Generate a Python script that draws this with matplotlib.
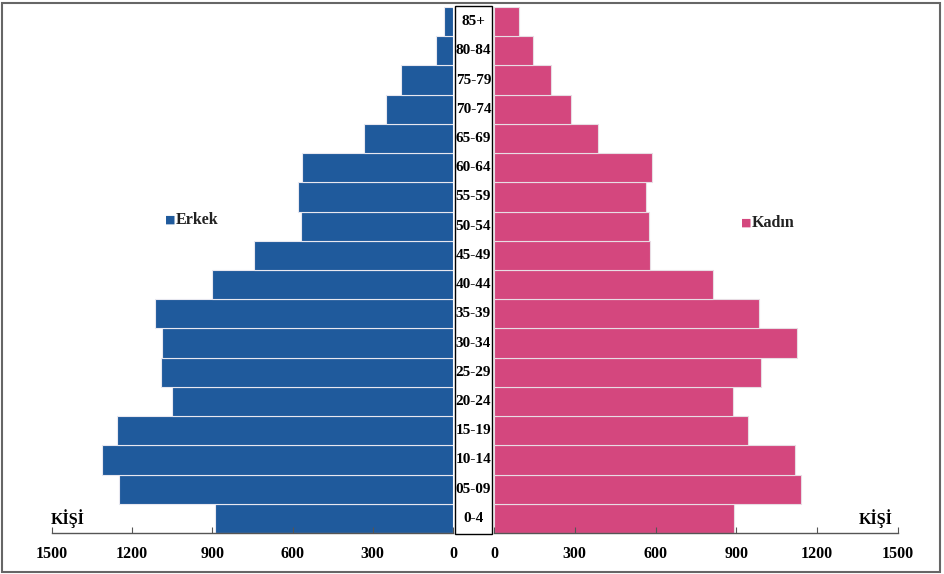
import numpy as np
import matplotlib.pyplot as plt
import matplotlib.patches as mpatches
import matplotlib.transforms as mtransforms

# age groups from bottom to top
ages = ['0-4', '05-09', '10-14', '15-19', '20-24', '25-29', '30-34', '35-39', '40-44',
        '45-49', '50-54', '55-59', '60-64', '65-69', '70-74', '75-79', '80-84', '85+']
erkek = [892, 1250, 1313, 1257, 1052, 1093, 1090, 1116, 903,
         743, 567, 578, 563, 332, 250, 194, 63, 34]
kadin = [892, 1141, 1119, 944, 888, 993, 1126, 985, 814,
         580, 576, 565, 587, 387, 286, 212, 145, 93]
ticks = [0, 300, 600, 900, 1200, 1500]

blue = '#1f5a9c'
pink = '#d4477e'
serif = ['Liberation Serif', 'DejaVu Serif']

W, H = 945, 574
fig = plt.figure(figsize=(W / 100, H / 100), dpi=100)

def px_box(x0, x1, ytop, ybot):
    return [x0 / W, 1 - ybot / H, (x1 - x0) / W, (ybot - ytop) / H]

ax_l = fig.add_axes(px_box(52, 453, 7, 533))
ax_r = fig.add_axes(px_box(494, 898, 7, 533))

y = np.arange(len(ages))
ax_l.barh(y, erkek, height=1.0, color=blue, edgecolor='#e8e8f0', linewidth=0.8)
ax_r.barh(y, kadin, height=1.0, color=pink, edgecolor='#e8dde4', linewidth=0.8)

for ax in (ax_l, ax_r):
    ax.set_ylim(-0.5, len(ages) - 0.5)
    ax.set_yticks([])
    for s in ('top', 'left', 'right'):
        ax.spines[s].set_visible(False)
    ax.spines['bottom'].set_color('#555555')
    ax.spines['bottom'].set_linewidth(1.0)
    ax.set_xticks(ticks)
    ax.set_xticklabels([str(t) for t in ticks], fontfamily=serif, fontweight='bold', fontsize=11.5)
    ax.tick_params(axis='x', direction='in', length=4, color='#555555', pad=9)
    ax.patch.set_alpha(0)

ax_l.set_xlim(1500, 0)
ax_r.set_xlim(0, 1500)

# centre column with age labels
fig.patches.append(mpatches.Rectangle((455 / W, 1 - 534 / H), 37 / W, 528 / H,
                                      transform=fig.transFigure, facecolor='white',
                                      edgecolor='black', linewidth=1.0, zorder=3))
trans = mtransforms.blended_transform_factory(fig.transFigure, ax_l.transData)
for yi, lab in zip(y, ages):
    fig.text(473.5 / W, yi, lab, transform=trans, ha='center', va='center',
             fontfamily=serif, fontweight='bold', fontsize=11, zorder=4)

# legend-like labels
fig.text(165 / W, 1 - 220 / H, '\u25a0', color=blue, ha='left', va='center', fontsize=8)
fig.text(176 / W, 1 - 220 / H, 'Erkek', ha='left', va='center',
         fontfamily=serif, fontweight='bold', fontsize=11.5, color='#222222')
fig.text(741 / W, 1 - 223 / H, '\u25a0', color=pink, ha='left', va='center', fontsize=8)
fig.text(752 / W, 1 - 223 / H, 'Kadın', ha='left', va='center',
         fontfamily=serif, fontweight='bold', fontsize=11.5, color='#222222')

fig.text(68 / W, 1 - 519 / H, 'KİŞİ', ha='center', va='center',
         fontfamily=serif, fontweight='bold', fontsize=11.5)
fig.text(876 / W, 1 - 519 / H, 'KİŞİ', ha='center', va='center',
         fontfamily=serif, fontweight='bold', fontsize=11.5)

# outer frame
fig.patches.append(mpatches.Rectangle((2 / W, 2 / H), 938 / W, 569 / H,
                                      transform=fig.transFigure, fill=False,
                                      edgecolor='#666666', linewidth=1.5))

fig.savefig('out.png', dpi=100)
